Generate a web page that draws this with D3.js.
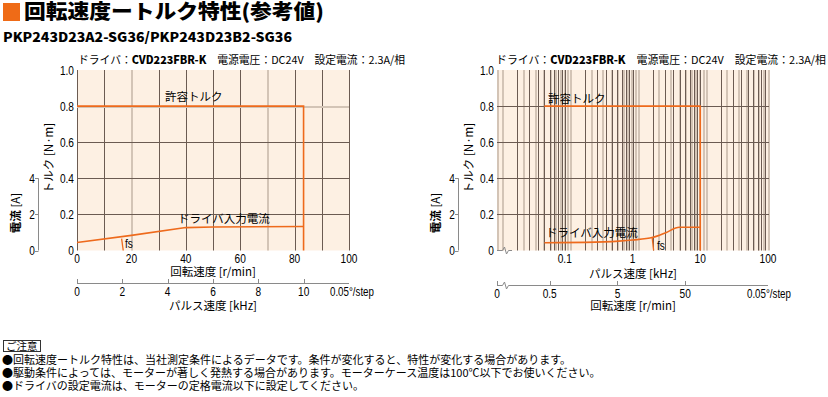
<!DOCTYPE html>
<html><head><meta charset="utf-8">
<script src="https://cdn.jsdelivr.net/npm/d3@7"></script>
<style>body{margin:0;background:#fff} svg{display:block}</style>
</head><body>
<script>
// ---------- data ----------
const torqueTicks = [0, 0.2, 0.4, 0.6, 0.8, 1.0];
const torqueTickLabels = ["0", "0.2", "0.4", "0.6", "0.8", "1.0"];
const currentTicks = [0, 2, 4];
const leftSpeedTicks = [0, 20, 40, 60, 80, 100];
const leftDarkGrid = [0, 10, 30, 40, 50, 60, 80, 90, 100];
const leftLightGrid = [20, 70];
const leftPulseTicks = [0, 2, 4, 6, 8, 10];
const leftTorqueSpeed = [0, 83.3, 83.3];
const leftTorque = [0.8, 0.8, 0];
const leftCurSpeed = [0, 20, 40, 50, 83.3];
const leftCurrent = [0.44, 0.84, 1.27, 1.30, 1.33];
const leftFsSpeed = [16.4, 17.0];
const leftFsCurrent = [0.66, 0];

const rightKhzTicks = [0.1, 1, 10, 100];
const rightKhzLabels = ["0.1", "1", "10", "100"];
const rightRpmTicks = [0.5, 5, 50];
const rightTorqueKhz = [0.05, 10, 10];
const rightTorque = [0.8, 0.8, 0];
const rightCurKhz = [0.05, 0.2, 0.63, 1, 2, 3.1, 4.9, 10];
const rightCurrent = [0.43, 0.45, 0.52, 0.58, 0.73, 0.99, 1.29, 1.29];
const rightFsKhz = [1.95, 2.05];
const rightFsCurrent = [0.73, 0];

const notes = [
  "●回転速度ートルク特性は、当社測定条件によるデータです。条件が変化すると、特性が変化する場合があります。",
  "●駆動条件によっては、モーターが著しく発熱する場合があります。モーターケース温度は100℃以下でお使いください。",
  "●ドライバの設定電流は、モーターの定格電流以下に設定してください。"
];

// ---------- style ----------
const C_BG = "#fdf0e3", C_DARK = "#6b5b52", C_LIGHT = "#d3c4b6", C_OR = "#ee6a1c", C_AX = "#8a8a8a";
const NUM = "'Liberation Sans',Arial,sans-serif";
const JP = "'Noto Sans CJK JP','Noto Sans',sans-serif";

const svg = d3.select("body").append("svg").attr("width", 828).attr("height", 397);

// narrow numeric text helper
function num(sel, x, y, txt, anchor, size) {
  return sel.append("text")
    .attr("transform", `translate(${x},${y}) scale(0.78,1)`)
    .attr("text-anchor", anchor || "middle")
    .attr("font-family", NUM).attr("font-size", size || 13).text(txt);
}

// title
svg.append("rect").attr("x", 3).attr("y", 3).attr("width", 17).attr("height", 18).attr("fill", "#ef6b17");
svg.append("text").attr("x", 24).attr("y", 19).attr("font-family", JP).attr("font-weight", 900)
  .attr("font-size", 20).attr("textLength", 300).attr("lengthAdjust", "spacingAndGlyphs")
  .text("回転速度ートルク特性(参考値)");
svg.append("text").attr("x", 3).attr("y", 42).attr("font-family", JP).attr("font-weight", 900)
  .attr("font-size", 13).attr("textLength", 289).attr("lengthAdjust", "spacingAndGlyphs")
  .text("PKP243D23A2-SG36/PKP243D23B2-SG36");

function header(x, w) {
  const t = svg.append("text").attr("x", x).attr("y", 64).attr("font-family", JP)
    .attr("font-size", 11).attr("textLength", w).attr("lengthAdjust", "spacingAndGlyphs");
  t.append("tspan").text("ドライバ：");
  t.append("tspan").attr("font-weight", 900).text("CVD223FBR-K");
  t.append("tspan").text("　電源電圧：DC24V　設定電流：2.3A/相");
}

const Y0 = 250.5, Y1 = 70;
const yT = d3.scaleLinear().domain([0, 1]).range([Y0, Y1]);
const yA = d3.scaleLinear().domain([0, 10]).range([Y0, Y1]);

function yAxes(plotX, curX) {
  torqueTicks.forEach((d, i) => num(svg, plotX - 3, yT(d) + 4.5, torqueTickLabels[i], "end"));
  svg.append("text").attr("transform", `translate(${plotX - 24},158) rotate(-90)`)
    .attr("text-anchor", "middle").attr("font-family", JP).attr("font-size", 11.5).text("トルク [N·m]");
  svg.append("line").attr("x1", curX + 0.5).attr("x2", curX + 0.5).attr("y1", yA(4)).attr("y2", yA(0))
    .attr("stroke", C_AX).attr("stroke-width", 1);
  svg.append("g").selectAll("line").data(currentTicks).join("line")
    .attr("x1", curX - 3).attr("x2", curX + 0.5).attr("y1", d => Math.round(yA(d)) + 0.5).attr("y2", d => Math.round(yA(d)) + 0.5)
    .attr("stroke", C_AX);
  currentTicks.forEach(d => num(svg, curX - 3, yA(d) + 4.5, d, "end"));
  svg.append("text").attr("transform", `translate(${curX - 18},213) rotate(-90)`)
    .attr("text-anchor", "middle").attr("font-family", JP).attr("font-size", 11.5)
    .call(t => { t.append("tspan").attr("font-weight", 700).text("電流"); t.append("tspan").text(" [A]"); });
}

// ================= LEFT CHART =================
const xL = d3.scaleLinear().domain([0, 100]).range([77, 349]);
const xP = d3.scaleLinear().domain([0, 12]).range([77, 349]);
svg.append("rect").attr("x", xL(0)).attr("y", Y1).attr("width", xL(100) - xL(0)).attr("height", Y0 - Y1).attr("fill", C_BG);
const gL = svg.append("g");
gL.selectAll(".lv").data(leftLightGrid).join("line").attr("x1", d => Math.round(xL(d)) + 1).attr("x2", d => Math.round(xL(d)) + 1)
  .attr("y1", Y1).attr("y2", Y0).attr("stroke", C_LIGHT).attr("stroke-width", 2);
gL.selectAll(".dv").data(leftDarkGrid).join("line").attr("x1", d => Math.round(xL(d)) + 0.5).attr("x2", d => Math.round(xL(d)) + 0.5)
  .attr("y1", Y1).attr("y2", Y0).attr("stroke", C_DARK).attr("stroke-width", 1);
gL.selectAll(".dh").data([0.2, 0.4, 0.6]).join("line").attr("x1", xL(0)).attr("x2", xL(100))
  .attr("y1", d => Math.round(yT(d)) + 0.5).attr("y2", d => Math.round(yT(d)) + 0.5).attr("stroke", C_DARK);
gL.append("line").attr("x1", xL(0)).attr("x2", xL(100)).attr("y1", Math.round(yT(0.8)) + 1).attr("y2", Math.round(yT(0.8)) + 1)
  .attr("stroke", C_LIGHT).attr("stroke-width", 2);

const lineL = d3.line();
gL.append("path").attr("d", lineL(leftTorqueSpeed.map((s, i) => [xL(s), yT(leftTorque[i])])))
  .attr("fill", "none").attr("stroke", C_OR).attr("stroke-width", 1.6);
gL.append("path").attr("d", lineL(leftCurSpeed.map((s, i) => [xL(s), yA(leftCurrent[i])])))
  .attr("fill", "none").attr("stroke", C_OR).attr("stroke-width", 1.6);
gL.append("path").attr("d", lineL(leftFsSpeed.map((s, i) => [xL(s), yA(leftFsCurrent[i])])))
  .attr("fill", "none").attr("stroke", C_OR).attr("stroke-width", 1.3);

svg.append("text").attr("x", 165).attr("y", 101).attr("font-family", JP).attr("font-size", 11.5).text("許容トルク");
svg.append("text").attr("x", 178).attr("y", 223).attr("font-family", JP).attr("font-size", 11.5).text("ドライバ入力電流");
num(svg, 125, 248, "fs", "start");

header(78, 327);
yAxes(77, 38);

leftSpeedTicks.forEach(d => num(svg, xL(d), 263, d));
svg.append("text").attr("x", 213).attr("y", 276).attr("text-anchor", "middle").attr("font-family", JP)
  .attr("font-size", 11.5).text("回転速度 [r/min]");

// pulse axis
svg.append("line").attr("x1", xP(0)).attr("x2", xP(12)).attr("y1", 283.5).attr("y2", 283.5).attr("stroke", C_AX);
svg.append("g").selectAll("line").data(leftPulseTicks).join("line")
  .attr("x1", d => Math.round(xP(d)) + 0.5).attr("x2", d => Math.round(xP(d)) + 0.5).attr("y1", 279).attr("y2", 283.5).attr("stroke", C_AX);
leftPulseTicks.forEach(d => num(svg, xP(d), 296, d));
num(svg, 330, 296, "0.05°/step", "start", 12.5);
svg.append("text").attr("x", 213).attr("y", 310).attr("text-anchor", "middle").attr("font-family", JP)
  .attr("font-size", 11.5).text("パルス速度 [kHz]");

// ================= RIGHT CHART =================
const xK = d3.scaleLog().domain([0.01, 100]).range([497, 768]);
const rpmPerKhz = 1000 * 0.05 / 360 * 60;   // r/min per kHz at 0.05°/step
const xRpm = d3.scaleLog().domain([0.01 * rpmPerKhz, 100 * rpmPerKhz]).range([497, 768]);

svg.append("rect").attr("x", 497).attr("y", Y1).attr("width", 271).attr("height", Y0 - Y1).attr("fill", C_BG);
const gR = svg.append("g");
gR.selectAll(".lv").data(xRpm.ticks().filter(d => xRpm(d) > 500 && xRpm(d) < 765)).join("line")
  .attr("x1", d => Math.round(xRpm(d)) + 1).attr("x2", d => Math.round(xRpm(d)) + 1)
  .attr("y1", Y1).attr("y2", Y0).attr("stroke", C_LIGHT).attr("stroke-width", 2);
gR.selectAll(".le").data([0.01, 100]).join("line").attr("x1", d => Math.round(xK(d)) + 1).attr("x2", d => Math.round(xK(d)) + 1)
  .attr("y1", Y1).attr("y2", Y0).attr("stroke", C_LIGHT).attr("stroke-width", 2);
gR.selectAll(".dv").data(xK.ticks().filter(d => d > 0.01 && d < 100)).join("line")
  .attr("x1", d => Math.round(xK(d)) + 0.5).attr("x2", d => Math.round(xK(d)) + 0.5)
  .attr("y1", Y1).attr("y2", Y0).attr("stroke", C_DARK);
gR.selectAll(".dh").data([0.2, 0.4, 0.6, 0.8]).join("line").attr("x1", 497).attr("x2", 769)
  .attr("y1", d => Math.round(yT(d)) + 0.5).attr("y2", d => Math.round(yT(d)) + 0.5).attr("stroke", C_DARK);

gR.append("path").attr("d", lineL(rightTorqueKhz.map((s, i) => [xK(s), yT(rightTorque[i])])))
  .attr("fill", "none").attr("stroke", C_OR).attr("stroke-width", 1.6);
gR.append("path").attr("d", d3.line().curve(d3.curveMonotoneX)(rightCurKhz.map((s, i) => [xK(s), yA(rightCurrent[i])])))
  .attr("fill", "none").attr("stroke", C_OR).attr("stroke-width", 1.6);
gR.append("path").attr("d", lineL(rightFsKhz.map((s, i) => [xK(s), yA(rightFsCurrent[i])])))
  .attr("fill", "none").attr("stroke", C_OR).attr("stroke-width", 1.3);

svg.append("text").attr("x", 548).attr("y", 103).attr("font-family", JP).attr("font-size", 11.5).text("許容トルク");
svg.append("text").attr("x", 546).attr("y", 237).attr("font-family", JP).attr("font-size", 11.5).text("ドライバ入力電流");
num(svg, 657, 250, "fs", "start");

header(496, 330);
yAxes(497, 458);

// break symbol on bottom of plot
svg.append("path").attr("d", "M497,250.5 H502.5 L504.5,247 L506.5,254 L508.5,250.5 H512")
  .attr("fill", "none").attr("stroke", C_AX);
rightKhzTicks.forEach((d, i) => num(svg, xK(d), 263, rightKhzLabels[i]));
svg.append("text").attr("x", 633).attr("y", 278).attr("text-anchor", "middle").attr("font-family", JP)
  .attr("font-size", 11.5).text("パルス速度 [kHz]");

// rpm axis
svg.append("path").attr("d", "M497,285.5 H502.5 L504.5,282 L506.5,289 L508.5,285.5 H768")
  .attr("fill", "none").attr("stroke", C_AX);
svg.append("g").selectAll("line").data(rightRpmTicks).join("line")
  .attr("x1", d => Math.round(xRpm(d)) + 0.5).attr("x2", d => Math.round(xRpm(d)) + 0.5).attr("y1", 281).attr("y2", 285.5).attr("stroke", C_AX);
svg.append("line").attr("x1", 497.5).attr("x2", 497.5).attr("y1", 281).attr("y2", 285.5).attr("stroke", C_AX);
num(svg, 497, 298, "0");
rightRpmTicks.forEach(d => num(svg, xRpm(d), 298, d));
num(svg, 747, 298, "0.05°/step", "start", 12.5);
svg.append("text").attr("x", 633).attr("y", 310).attr("text-anchor", "middle").attr("font-family", JP)
  .attr("font-size", 11.5).text("回転速度 [r/min]");

// ================= NOTES =================
svg.append("rect").attr("x", 3.5).attr("y", 340.5).attr("width", 37).attr("height", 11).attr("fill", "#fff")
  .attr("stroke", "#333");
svg.append("text").attr("x", 6).attr("y", 350).attr("font-family", JP).attr("font-size", 10.5).text("ご注意");
svg.append("g").selectAll("text").data(notes).join("text")
  .attr("x", 2).attr("y", (d, i) => 364 + i * 13).attr("font-family", JP).attr("font-size", 11).text(d => d);
</script>
</body></html>
